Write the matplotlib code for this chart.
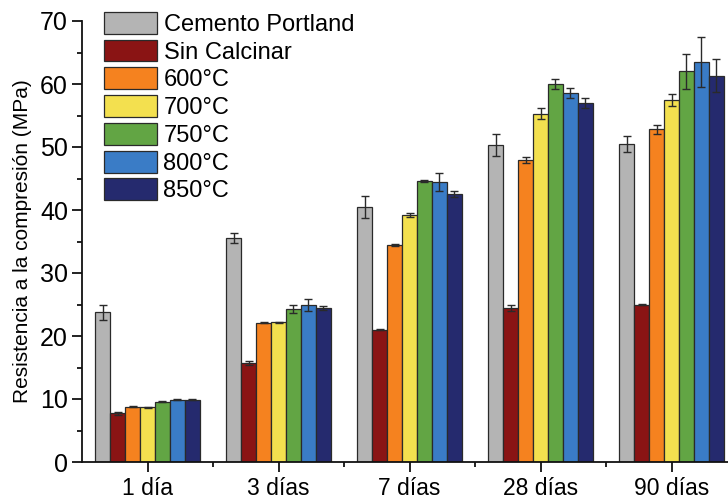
import numpy as np
import matplotlib
matplotlib.use('Agg')
import matplotlib.pyplot as plt
from matplotlib.ticker import MultipleLocator, FixedLocator

plt.rcParams['font.family'] = ['Liberation Sans', 'DejaVu Sans']

# edades de ensayo
edades = ['1 día', '3 días', '7 días', '28 días', '90 días']

# resistencia media (MPa) y desviación por mezcla
series = ['Cemento Portland', 'Sin Calcinar', '600°C', '700°C', '750°C', '800°C', '850°C']
portland = [23.8, 35.6, 40.5, 50.3, 50.5]
portland_err = [1.2, 0.8, 1.7, 1.7, 1.3]
sin_calcinar = [7.7, 15.7, 21.0, 24.5, 25.0]
sin_calcinar_err = [0.2, 0.3, 0.1, 0.5, 0.1]
t600 = [8.8, 22.1, 34.5, 47.9, 52.8]
t600_err = [0.1, 0.05, 0.15, 0.5, 0.75]
t700 = [8.7, 22.2, 39.2, 55.3, 57.5]
t700_err = [0.1, 0.1, 0.3, 0.9, 0.95]
t750 = [9.6, 24.3, 44.6, 60.0, 62.0]
t750_err = [0.15, 0.6, 0.2, 0.8, 2.8]
t800 = [9.9, 24.9, 44.4, 58.6, 63.5]
t800_err = [0.1, 1.0, 1.4, 0.75, 4.0]
t850 = [9.9, 24.4, 42.5, 57.0, 61.3]
t850_err = [0.05, 0.3, 0.5, 0.75, 2.6]

valores = [portland, sin_calcinar, t600, t700, t750, t800, t850]
errores = [portland_err, sin_calcinar_err, t600_err, t700_err, t750_err, t800_err, t850_err]
colores = ['#b4b4b4', '#8a1414', '#f5821f', '#f3e04f', '#62a544', '#3a7cc6', '#252a6e']

fig = plt.figure(figsize=(7.28, 5.0), dpi=100)
# el eje x sigue más allá del borde derecho
ax = fig.add_axes([82 / 728, 38 / 500, 655 / 728, 441 / 500])

x = np.arange(len(edades))
ancho = 0.114
for i, (vals, errs, col, nombre) in enumerate(zip(valores, errores, colores, series)):
    pos = x + (i - 3) * ancho
    ax.bar(pos, vals, ancho, color=col, edgecolor='#2a2a2a', linewidth=0.9,
           label=nombre, zorder=2)
    ax.errorbar(pos, vals, yerr=errs, fmt='none', ecolor='#2a2a2a',
                elinewidth=1.0, capsize=3.2, capthick=1.0, zorder=3)

ax.set_xlim(-0.5, 4.5)
ax.set_ylim(0, 70)
ax.set_xticks(x)
ax.set_xticklabels(edades)
ax.xaxis.set_minor_locator(FixedLocator(x[:-1] + 0.5))
ax.yaxis.set_major_locator(MultipleLocator(10))
ax.yaxis.set_minor_locator(MultipleLocator(5))

for lado in ['top', 'right']:
    ax.spines[lado].set_visible(False)
for lado in ['left', 'bottom']:
    ax.spines[lado].set_linewidth(1.3)
    ax.spines[lado].set_color('#111111')

ax.tick_params(axis='both', which='major', direction='out', length=7, width=1.3,
               color='#111111')
ax.tick_params(axis='both', which='minor', direction='out', length=3.6, width=1.3,
               color='#111111')
ax.tick_params(axis='y', which='major', labelsize=18, pad=3)
ax.tick_params(axis='x', which='major', labelsize=16.5, pad=4)
ax.set_ylabel('Resistencia a la compresión (MPa)', fontsize=15)
ax.yaxis.set_label_coords(-0.0763, 0.5)

ax.legend(loc='upper left', bbox_to_anchor=(22 / 655, 1.021), frameon=False,
          fontsize=17, handlelength=2.25, handleheight=1.05, handletextpad=0.27,
          labelspacing=0.16, borderpad=0, borderaxespad=0)

fig.savefig('out.png', dpi=100)
